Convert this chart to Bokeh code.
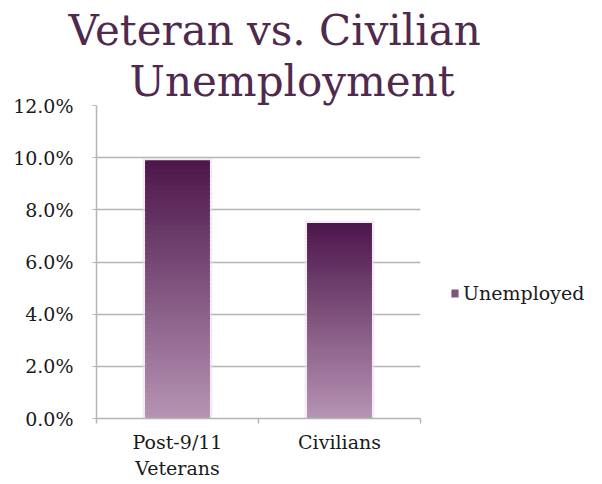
from bokeh.plotting import figure
from bokeh.models import (Range1d, FixedTicker, PrintfTickFormatter, Title,
                          Legend, LegendItem, ColumnDataSource)
from bokeh.embed import file_html
from bokeh.resources import INLINE

# ---- data ----
categories = ["Post-9/11\nVeterans", "Civilians"]
unemployment = [9.9, 7.5]          # percent
series_name = "Unemployed"
y_ticks = [0, 2, 4, 6, 8, 10, 12]
title_lines = ["Veteran vs. Civilian", "Unemployment"]

# ---- style ----
FONT = "DejaVu Serif"
TOP_RGB = (76, 22, 74)
BOTTOM_RGB = (182, 148, 180)
GRID = "#b5b5b5"
N_SLICES = 60
BAR_W = 0.4
LBL = "19px"

def mix(t):
    r = [round(b + (a - b) * t) for a, b in zip(TOP_RGB, BOTTOM_RGB)]
    return "#%02x%02x%02x" % tuple(r)

# gradient slices derived from each bar's value
xs, bottoms, tops, colors = [], [], [], []
for i, v in enumerate(unemployment):
    h = v / N_SLICES
    for k in range(N_SLICES):
        xs.append(i + 0.5)
        bottoms.append(k * h)
        tops.append(min(v, (k + 1.6) * h))
        colors.append(mix((k + 0.5) / N_SLICES))
src = ColumnDataSource(dict(x=xs, bottom=bottoms, top=tops, color=colors))
halo = ColumnDataSource(dict(x=[i + 0.5 for i in range(len(categories))],
                             top=[v + 0.08 for v in unemployment]))

p = figure(frame_width=324, frame_height=313, output_backend="svg",
           toolbar_location=None,
           x_range=Range1d(0, len(categories)), y_range=Range1d(0, 12),
           min_border_left=96, min_border_right=174, min_border_top=105,
           min_border_bottom=58, title=None)
p.outline_line_color = None
p.background_fill_color = "white"
p.border_fill_color = "white"

p.vbar(x="x", top="top", bottom=0, width=BAR_W + 0.03, source=halo,
       fill_color="#eadcea", fill_alpha=0.6, line_color=None)
bars = p.vbar(x="x", bottom="bottom", top="top", width=BAR_W, source=src,
              fill_color="color", line_color=None)

# y axis
p.yaxis.ticker = FixedTicker(ticks=y_ticks)
p.yaxis.formatter = PrintfTickFormatter(format="%.1f%%")
p.yaxis.axis_line_color = GRID
p.yaxis.axis_line_width = 1.5
p.yaxis.major_tick_line_color = GRID
p.yaxis.major_tick_out = 4
p.yaxis.major_tick_in = 0
p.yaxis.minor_tick_line_color = None
p.yaxis.major_label_standoff = 19
p.yaxis.major_label_text_font = FONT
p.yaxis.major_label_text_font_size = LBL
p.yaxis.major_label_text_color = "#1a1a1a"

# x axis
centers = [i + 0.5 for i in range(len(categories))]
p.xaxis.ticker = FixedTicker(ticks=centers,
                             minor_ticks=list(range(len(categories) + 1)))
p.xaxis.major_label_overrides = {c: lab for c, lab in zip(centers, categories)}
p.xaxis.axis_line_color = GRID
p.xaxis.axis_line_width = 1.5
p.xaxis.major_tick_line_color = None
p.xaxis.minor_tick_line_color = GRID
p.xaxis.minor_tick_line_width = 1.5
p.xaxis.minor_tick_out = 5
p.xaxis.minor_tick_in = 0
p.xaxis.major_label_standoff = 6
p.xaxis.major_label_text_font = FONT
p.xaxis.major_label_text_font_size = LBL
p.xaxis.major_label_text_color = "#1a1a1a"

p.xgrid.grid_line_color = None
p.ygrid.grid_line_color = GRID
p.ygrid.grid_line_width = 1.5

# title (two lines, nearest to the plot first)
for txt, off in [(title_lines[1], 33), (title_lines[0], -28)]:
    p.add_layout(Title(text=txt, align="left", offset=off, standoff=0,
                       text_font=FONT, text_font_size="42px",
                       text_font_style="normal", text_color="#4f2a4d"),
                 "above")

# legend
legend = Legend(items=[LegendItem(label=series_name, renderers=[bars],
                                  index=N_SLICES // 2)],
                location=(30, 114), padding=0, margin=0, spacing=0,
                glyph_width=9, glyph_height=10, label_standoff=4,
                label_height=20, label_text_font=FONT,
                label_text_font_size=LBL, label_text_color="#1a1a1a",
                border_line_color=None, background_fill_alpha=0)
p.add_layout(legend, "right")

open("out.html", "w").write(file_html(p, INLINE))
